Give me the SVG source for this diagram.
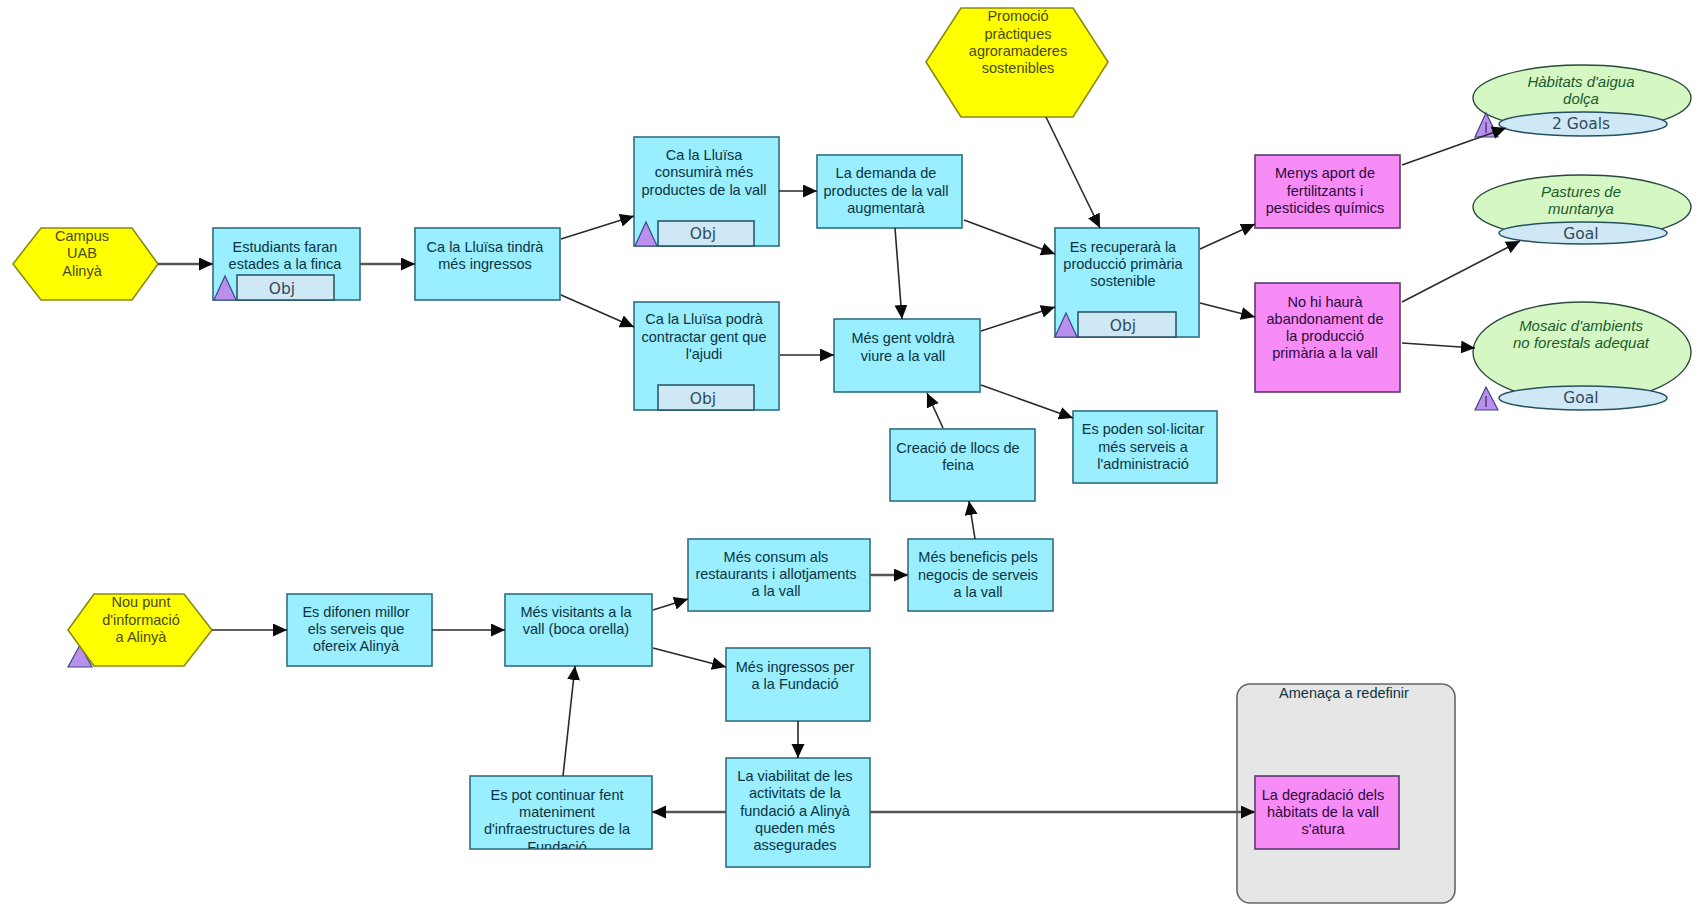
<svg xmlns="http://www.w3.org/2000/svg" width="1700" height="904" viewBox="0 0 1700 904">
<style>
text{font-family:"Liberation Sans",Arial,sans-serif;font-size:14.5px;text-anchor:middle;fill:#0b3440}
.pk text{fill:#2a0a3a}
.yt text{fill:#4a4a10}
.b{fill:#99eeff;stroke:#2f6f80;stroke-width:1.6}
.m{fill:#f78cf7;stroke:#5a3a70;stroke-width:1.6}
.y{fill:#ffff00;stroke:#8a8a10;stroke-width:1.6}
.g{fill:#d4f7c4;stroke:#2a4a3a;stroke-width:1.4}
.o{fill:#cfe8f6;stroke:#24505f;stroke-width:1.5}
.t{fill:#bb8fee;stroke:#3a4a80;stroke-width:1.2}
.k{stroke:#3a2a60;stroke-width:1.2}
.lbl{font-family:"DejaVu Sans",sans-serif;font-size:15.5px;fill:#2f4a5a}
.i{font-style:italic;font-size:15px;fill:#1d5a2a}
.c line{stroke:#2a2a2a;stroke-width:1.6;marker-end:url(#a)}
.c line.h{stroke:#555;stroke-width:2.6}
</style>
<defs>
<marker id="a" markerUnits="userSpaceOnUse" markerWidth="15" markerHeight="14" refX="14" refY="6.5" orient="auto"><path d="M0 0L14 6.5L0 13Z" fill="#0a0a0a"/></marker>
<clipPath id="cp"><rect x="470" y="776" width="182" height="73"/></clipPath>
</defs>
<rect width="1700" height="904" fill="#fff"/>
<g id="threat"><rect x="1237" y="684" width="218" height="219" rx="13" fill="#e6e6e6" stroke="#666" stroke-width="1.6"/><text x="1344" y="698" fill="#222">Amenaça a redefinir</text></g>
<g id="campus" class="yt"><polygon class="y" points="13,264 41,228 132,228 158,264 132,300 41,300"/><text x="82" y="241">Campus</text><text x="82" y="258">UAB</text><text x="82" y="276">Alinyà</text></g>
<g id="estudiants"><rect class="b" x="213" y="228" width="147" height="72"/><text x="285" y="252">Estudiants faran</text><text x="285" y="269">estades a la finca</text><rect class="o" x="237" y="275" width="97" height="25"/><polygon class="t" points="225,276 236,300 214,300"/><text class="lbl" x="282" y="294">Obj</text></g>
<g id="ingressos"><rect class="b" x="415" y="228" width="145" height="72"/><text x="485" y="252">Ca la Lluïsa tindrà</text><text x="485" y="269">més ingressos</text></g>
<g id="consumira"><rect class="b" x="634" y="137" width="145" height="109"/><text x="704" y="160">Ca la Lluïsa</text><text x="704" y="177">consumirà més</text><text x="704" y="195">productes de la vall</text><rect class="o" x="658" y="221" width="96" height="25"/><polygon class="t" points="646,222 657,246 635,246"/><text class="lbl" x="703" y="239">Obj</text></g>
<g id="contractar"><rect class="b" x="634" y="302" width="145" height="108"/><text x="704" y="324">Ca la Lluïsa podrà</text><text x="704" y="342">contractar gent que</text><text x="704" y="359">l'ajudi</text><rect class="o" x="658" y="385" width="96" height="25"/><text class="lbl" x="703" y="404">Obj</text></g>
<g id="demanda"><rect class="b" x="817" y="155" width="145" height="73"/><text x="886" y="178">La demanda de</text><text x="886" y="196">productes de la vall</text><text x="886" y="213">augmentarà</text></g>
<g id="gent"><rect class="b" x="834" y="319" width="146" height="73"/><text x="903" y="343">Més gent voldrà</text><text x="903" y="361">viure a la vall</text></g>
<g id="promocio" class="yt"><polygon class="y" points="926,62 961,8 1073,8 1108,62 1073,117 961,117"/><text x="1018" y="21">Promoció</text><text x="1018" y="39">pràctiques</text><text x="1018" y="56">agroramaderes</text><text x="1018" y="73">sostenibles</text></g>
<g id="recupera"><rect class="b" x="1055" y="228" width="144" height="109"/><text x="1123" y="252">Es recuperarà la</text><text x="1123" y="269">producció primària</text><text x="1123" y="286">sostenible</text><rect class="o" x="1078" y="312" width="98" height="25"/><polygon class="t" points="1066,313 1077,337 1055,337"/><text class="lbl" x="1123" y="331">Obj</text></g>
<g id="menys" class="pk"><rect class="m" x="1255" y="155" width="145" height="73"/><text x="1325" y="178">Menys aport de</text><text x="1325" y="196">fertilitzants i</text><text x="1325" y="213">pesticides químics</text></g>
<g id="abandonament" class="pk"><rect class="m" x="1255" y="283" width="145" height="109"/><text x="1325" y="307">No hi haurà</text><text x="1325" y="324">abandonament de</text><text x="1325" y="341">la producció</text><text x="1325" y="358">primària a la vall</text></g>
<g id="habitats"><ellipse class="g" cx="1582" cy="98" rx="109" ry="33"/><ellipse class="o" cx="1583" cy="124" rx="84" ry="12"/><polygon class="t" points="1486,113 1498,137 1475,137"/><path class="k" d="M1486 122V133"/><text class="i" x="1581" y="87">Hàbitats d'aigua</text><text class="i" x="1581" y="104">dolça</text><text class="lbl" x="1581" y="129">2 Goals</text></g>
<g id="pastures"><ellipse class="g" cx="1582" cy="207" rx="109" ry="32"/><ellipse class="o" cx="1583" cy="233" rx="84" ry="11"/><text class="i" x="1581" y="197">Pastures de</text><text class="i" x="1581" y="214">muntanya</text><text class="lbl" x="1581" y="239">Goal</text></g>
<g id="mosaic"><ellipse class="g" cx="1582" cy="352" rx="109" ry="50"/><ellipse class="o" cx="1583" cy="398" rx="84" ry="12"/><polygon class="t" points="1486,387 1498,410 1475,410"/><path class="k" d="M1486 396V407"/><text class="i" x="1581" y="331">Mosaic d'ambients</text><text class="i" x="1581" y="348">no forestals adequat</text><text class="lbl" x="1581" y="403">Goal</text></g>
<g id="poden"><rect class="b" x="1073" y="411" width="144" height="72"/><text x="1143" y="434">Es poden sol·licitar</text><text x="1143" y="452">més serveis a</text><text x="1143" y="469">l'administració</text></g>
<g id="creacio"><rect class="b" x="890" y="429" width="145" height="72"/><text x="958" y="453">Creació de llocs de</text><text x="958" y="470">feina</text></g>
<g id="beneficis"><rect class="b" x="908" y="539" width="145" height="72"/><text x="978" y="562">Més beneficis pels</text><text x="978" y="580">negocis de serveis</text><text x="978" y="597">a la vall</text></g>
<g id="consum"><rect class="b" x="688" y="539" width="182" height="72"/><text x="776" y="562">Més consum als</text><text x="776" y="579">restaurants i allotjaments</text><text x="776" y="596">a la vall</text></g>
<g id="nou" class="yt"><polygon class="t" points="80,645 92,667 68,667"/><polygon class="y" points="68,630 94,594 184,594 212,630 184,666 94,666"/><text x="141" y="607">Nou punt</text><text x="141" y="625">d'informació</text><text x="141" y="642">a Alinyà</text></g>
<g id="difonen"><rect class="b" x="287" y="594" width="145" height="72"/><text x="356" y="617">Es difonen millor</text><text x="356" y="634">els serveis que</text><text x="356" y="651">ofereix Alinyà</text></g>
<g id="visitants"><rect class="b" x="505" y="594" width="147" height="72"/><text x="576" y="617">Més visitants a la</text><text x="576" y="634">vall (boca orella)</text></g>
<g id="fundacio"><rect class="b" x="726" y="648" width="144" height="73"/><text x="795" y="672">Més ingressos per</text><text x="795" y="689">a la Fundació</text></g>
<g id="viabilitat"><rect class="b" x="726" y="758" width="144" height="109"/><text x="795" y="781">La viabilitat de les</text><text x="795" y="798">activitats de la</text><text x="795" y="816">fundació a Alinyà</text><text x="795" y="833">queden més</text><text x="795" y="850">assegurades</text></g>
<g id="manteniment"><rect class="b" x="470" y="776" width="182" height="73"/><g clip-path="url(#cp)"><text x="557" y="800">Es pot continuar fent</text><text x="557" y="817">mateniment</text><text x="557" y="834">d'infraestructures de la</text><text x="557" y="852">Fundació</text></g></g>
<g id="degradacio" class="pk"><rect class="m" x="1255" y="776" width="144" height="73"/><text x="1323" y="800">La degradació dels</text><text x="1323" y="817">hàbitats de la vall</text><text x="1323" y="834">s'atura</text></g>
<g id="connectors" class="c">
<line class="h" x1="158" y1="264" x2="213" y2="264"/>
<line class="h" x1="360" y1="264" x2="415" y2="264"/>
<line x1="561" y1="239" x2="634" y2="216"/>
<line x1="561" y1="295" x2="634" y2="327"/>
<line x1="779" y1="191" x2="817" y2="191"/>
<line x1="780" y1="355" x2="834" y2="355"/>
<line x1="895" y1="228" x2="902" y2="319"/>
<line x1="964" y1="220" x2="1055" y2="254"/>
<line x1="981" y1="331" x2="1055" y2="307"/>
<line x1="1046" y1="117" x2="1100" y2="228"/>
<line x1="1200" y1="249" x2="1255" y2="224"/>
<line x1="1200" y1="303" x2="1255" y2="317"/>
<line x1="1402" y1="165" x2="1506" y2="128"/>
<line x1="1402" y1="302" x2="1520" y2="241"/>
<line x1="1402" y1="343" x2="1475" y2="348"/>
<line x1="981" y1="385" x2="1073" y2="418"/>
<line x1="943" y1="428" x2="927" y2="393"/>
<line x1="975" y1="539" x2="969" y2="501"/>
<line class="h" x1="870" y1="575" x2="908" y2="575"/>
<line x1="212" y1="630" x2="287" y2="630"/>
<line x1="432" y1="630" x2="505" y2="630"/>
<line x1="653" y1="610" x2="688" y2="599"/>
<line x1="653" y1="648" x2="726" y2="667"/>
<line x1="798" y1="721" x2="798" y2="758"/>
<line class="h" x1="726" y1="812" x2="652" y2="812"/>
<line x1="563" y1="776" x2="575" y2="666"/>
<line class="h" x1="870" y1="812" x2="1255" y2="812"/>
</g>
</svg>
